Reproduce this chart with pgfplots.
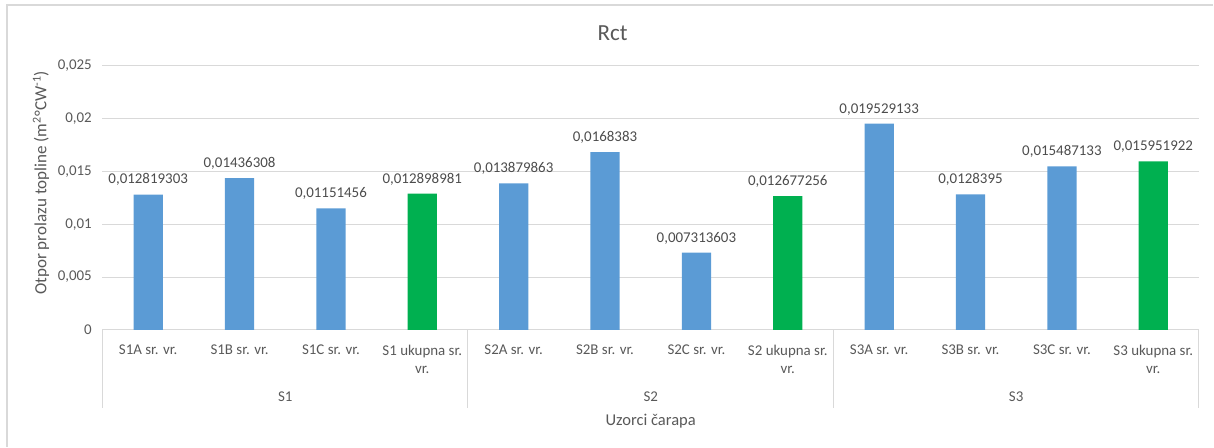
\documentclass[border=0pt]{standalone}
\usepackage{pgfplots}
\pgfplotsset{compat=1.18}
\usepackage{fontspec}
\setmainfont{Carlito}
\definecolor{barblue}{HTML}{5B9BD5}
\definecolor{bargreen}{HTML}{00B050}
\definecolor{txt}{HTML}{595959}
\definecolor{grid}{HTML}{D9D9D9}
\begin{document}
\begin{tikzpicture}
\path (0,0) rectangle (910.5pt,335.25pt);
\draw[grid, line width=0.9pt] (5.25pt,0pt) -- (5.25pt,331.5pt) -- (910.5pt,331.5pt);
\begin{axis}[
  at={(76.9pt,87.75pt)}, anchor=south west,
  scale only axis, width=822.75pt, height=198pt,
  xmin=-0.5, xmax=11.5, ymin=0, ymax=0.025,
  ytick={0,0.005,0.01,0.015,0.02,0.025},
  scaled y ticks=false,
  yticklabel style={/pgf/number format/fixed, /pgf/number format/precision=3, /pgf/number format/use comma, /pgf/number format/assume math mode=true,
    font=\fontsize{11.2}{13}\selectfont, text=txt, xshift=-4.5pt},
  xtick={0,...,11},
  xticklabels={S1A sr. vr., S1B sr. vr., S1C sr. vr., {S1 ukupna sr.\\vr.},
               S2A sr. vr., S2B sr. vr., S2C sr. vr., {S2 ukupna sr.\\vr.},
               S3A sr. vr., S3B sr. vr., S3C sr. vr., {S3 ukupna sr.\\vr.}},
  xticklabel style={font=\fontsize{11.2}{13.75}\selectfont, text=txt, align=center, anchor=north, yshift=-8pt},
  major tick length=0pt,
  axis lines*=left,
  y axis line style={draw=none},
  x axis line style={draw=grid, line width=0.75pt},
  ymajorgrids, grid style={draw=grid, line width=0.75pt},
  ybar, bar width=0.32, bar shift=0pt,
  clip=false,
  nodes near coords={\pgfplotspointmeta},
  point meta=explicit symbolic,
  every node near coord/.append style={font=\fontsize{11.2}{13}\selectfont, text=txt!85!black, anchor=south, yshift=3pt},
]
\addplot[fill=barblue, draw=none] table[x=x, y=y, meta=lab] {
x y lab
0 0.012819303 0,012819303
1 0.01436308 0,01436308
2 0.01151456 0,01151456
4 0.013879863 0,013879863
5 0.0168383 0,0168383
6 0.007313603 0,007313603
8 0.019529133 0,019529133
9 0.0128395 0,0128395
10 0.015487133 0,015487133
};
\addplot[fill=bargreen, draw=none] table[x=x, y=y, meta=lab] {
x y lab
3 0.012898981 0,012898981
7 0.012677256 0,012677256
11 0.015951922 0,015951922
};
\draw[grid, line width=0.75pt] (axis cs:-0.5,0) -- ++(0pt,-58.5pt);
\draw[grid, line width=0.75pt] (axis cs:3.5,0) -- ++(0pt,-58.5pt);
\draw[grid, line width=0.75pt] (axis cs:7.5,0) -- ++(0pt,-58.5pt);
\draw[grid, line width=0.75pt] (axis cs:11.5,0) -- ++(0pt,-58.5pt);
\node[font=\fontsize{11.2}{13}\selectfont, text=txt] at ([yshift=-50.25pt]axis cs:1.5,0) {S1};
\node[font=\fontsize{11.2}{13}\selectfont, text=txt] at ([yshift=-50.25pt]axis cs:5.5,0) {S2};
\node[font=\fontsize{11.2}{13}\selectfont, text=txt] at ([yshift=-50.25pt]axis cs:9.5,0) {S3};
\end{axis}
\node[font=\fontsize{17.3}{20}\selectfont, text=txt] at (459.75pt,310.5pt) {Rct};
\node[font=\fontsize{12.4}{14}\selectfont, text=txt] at (488.25pt,19.5pt) {Uzorci čarapa};
\node[font=\fontsize{12.8}{14}\selectfont, text=txt, rotate=90] at (30.75pt,198pt) {Otpor prolazu topline (m\textsuperscript{2}°CW\textsuperscript{-1})};
\end{tikzpicture}
\end{document}
